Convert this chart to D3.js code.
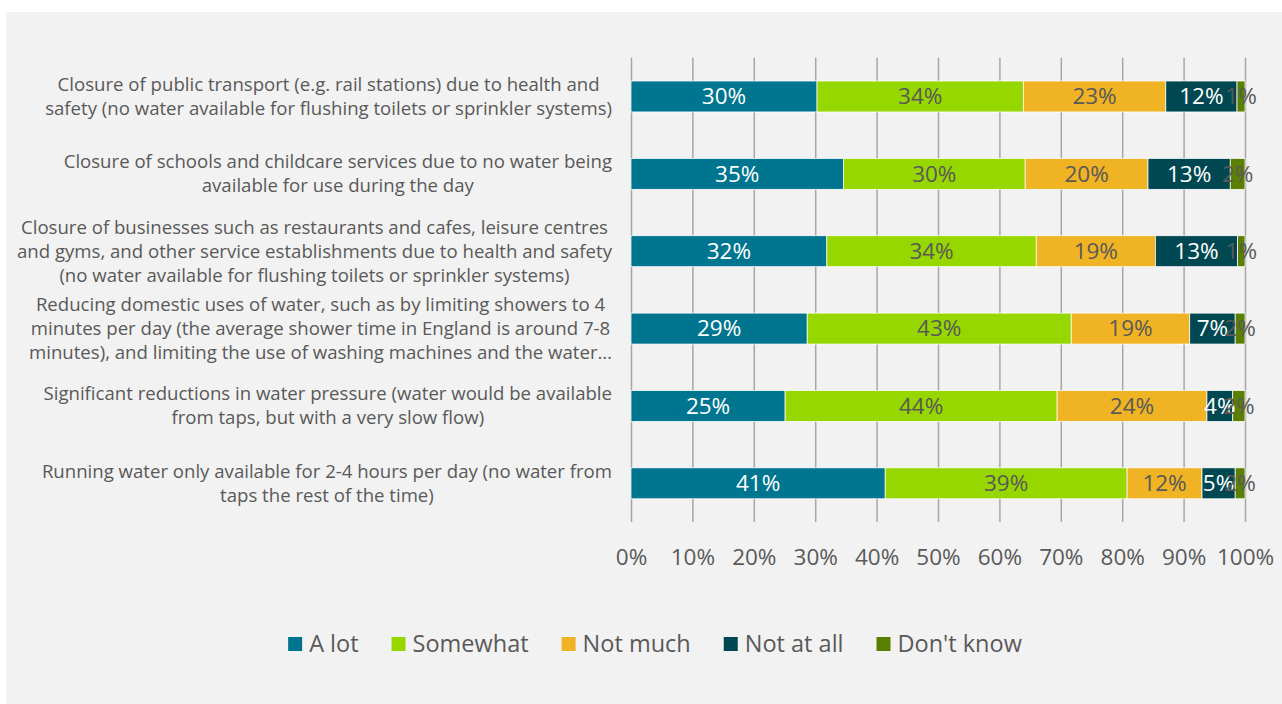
<!DOCTYPE html>
<html>
<head>
<meta charset="utf-8">
<script src="https://cdn.jsdelivr.net/npm/d3@7"></script>
<style>
  html, body { margin: 0; padding: 0; background: #ffffff; }
  svg { display: block; }
  text { font-family: "Open Sans", "Noto Sans", sans-serif; }
</style>
</head>
<body>
<svg id="chart" width="1282" height="704"></svg>
<script>
// Survey statements, each split over the lines it is printed on
const categories = [
  ["Closure of public transport (e.g. rail stations) due to health and",
   "safety (no water available for flushing toilets or sprinkler systems)"],
  ["Closure of schools and childcare services due to no water being",
   "available for use during the day"],
  ["Closure of businesses such as restaurants and cafes, leisure centres",
   "and gyms, and other service establishments due to health and safety",
   "(no water available for flushing toilets or sprinkler systems)"],
  ["Reducing domestic uses of water, such as by limiting showers to 4",
   "minutes per day (the average shower time in England is around 7-8",
   "minutes), and limiting the use of washing machines and the water\u2026"],
  ["Significant reductions in water pressure (water would be available",
   "from taps, but with a very slow flow)"],
  ["Running water only available for 2-4 hours per day (no water from",
   "taps the rest of the time)"]
];

const seriesNames = ["A lot", "Somewhat", "Not much", "Not at all", "Don't know"];

// Share of respondents (%) per statement, one array per answer
const aLot      = [30.3, 34.6, 31.9, 28.7, 25.1, 41.4];
const somewhat  = [33.6, 29.6, 34.1, 43.0, 44.3, 39.4];
const notMuch   = [23.2, 20.0, 19.4, 19.3, 24.4, 12.2];
const notAtAll  = [11.6, 13.4, 13.4,  7.4,  4.2,  5.4];
const dontKnow  = [ 1.3,  2.4,  1.2,  1.6,  2.0,  1.6];

const tickValues = [0, 0.1, 0.2, 0.3, 0.4, 0.5, 0.6, 0.7, 0.8, 0.9, 1.0];

const colors = ["#00758f", "#97d700", "#f0b323", "#004851", "#5b7f00"];
const labelColors = ["#ffffff", "#595959", "#595959", "#ffffff", "#595959"];

const svg = d3.select("#chart");

// Light grey panel behind the chart
svg.append("rect")
  .attr("x", 6).attr("y", 12)
  .attr("width", 1276).attr("height", 692)
  .attr("fill", "#f2f2f2");

const plot = { left: 631, right: 1245, top: 57.8, bottom: 522 };

const rows = categories.map((c, i) => ({
  idx: i,
  "A lot": aLot[i],
  "Somewhat": somewhat[i],
  "Not much": notMuch[i],
  "Not at all": notAtAll[i],
  "Don't know": dontKnow[i]
}));

const stack = d3.stack().keys(seriesNames).offset(d3.stackOffsetExpand);
const layers = stack(rows);

const x = d3.scaleLinear().domain([0, 1]).range([plot.left, plot.right]);
const y = d3.scaleBand()
  .domain(d3.range(categories.length))
  .range([plot.top, plot.bottom])
  .paddingInner(0.6)
  .paddingOuter(0.3);

// Vertical gridlines
const grid = d3.axisBottom(x)
  .tickValues(tickValues)
  .tickSize(-(plot.bottom - plot.top))
  .tickFormat("");
svg.append("g")
  .attr("transform", `translate(0,${plot.bottom})`)
  .call(grid)
  .call(g => g.select(".domain").remove())
  .call(g => g.selectAll("line").attr("stroke", "#a6a6a6").attr("stroke-width", 1.5));

// Axis tick labels
const axis = d3.axisBottom(x)
  .tickValues(tickValues)
  .tickSize(0)
  .tickPadding(0)
  .tickFormat(d3.format(".0%"));
svg.append("g")
  .attr("transform", `translate(0,${plot.bottom + 35})`)
  .call(axis)
  .call(g => g.select(".domain").remove())
  .call(g => g.selectAll("text")
    .attr("dy", "0.35em")
    .attr("fill", "#595959")
    .style("font-size", "22.5px")
    .style("font-family", "'Open Sans', sans-serif"));

// Stacked bar segments
const layerG = svg.append("g")
  .selectAll("g")
  .data(layers)
  .join("g")
  .attr("fill", (d, i) => colors[i]);

layerG.selectAll("rect")
  .data(d => d)
  .join("rect")
  .attr("x", d => x(d[0]))
  .attr("y", d => y(d.data.idx))
  .attr("width", d => x(d[1]) - x(d[0]))
  .attr("height", y.bandwidth())
  .attr("stroke", "#ffffff")
  .attr("stroke-width", 0.75);

// Value labels centred on each segment
layers.forEach((layer, li) => {
  svg.append("g")
    .selectAll("text")
    .data(layer)
    .join("text")
    .attr("x", d => (x(d[0]) + x(d[1])) / 2)
    .attr("y", d => y(d.data.idx) + y.bandwidth() / 2)
    .attr("dy", "0.35em")
    .attr("text-anchor", "middle")
    .attr("fill", labelColors[li])
    .style("font-size", "22.5px")
    .text(d => Math.round(d.data[layer.key]) + "%");
});

// Category labels: lines centred within a block whose right edge sits at x=612
const catFont = 18.6;
const lineH = 24;
const catG = svg.append("g");
categories.forEach((lines, i) => {
  const cy = y(i) + y.bandwidth() / 2;
  const t = catG.append("text")
    .attr("fill", "#595959")
    .style("font-size", catFont + "px")
    .attr("text-anchor", "middle");
  const spans = lines.map((ln, k) =>
    t.append("tspan")
      .attr("y", cy + (k - (lines.length - 1) / 2) * lineH)
      .attr("dy", "0.35em")
      .text(ln));
  const maxW = d3.max(spans, s => s.node().getComputedTextLength());
  const cx = 612 - maxW / 2;
  spans.forEach(s => s.attr("x", cx));
});

// Legend, centred under the plot
const legend = svg.append("g");
const items = seriesNames.map((name, i) => {
  const g = legend.append("g");
  g.append("rect")
    .attr("width", 14).attr("height", 14)
    .attr("y", -7)
    .attr("fill", colors[i]);
  const tx = g.append("text")
    .attr("x", 21)
    .attr("dy", "0.35em")
    .attr("fill", "#595959")
    .style("font-size", "23.5px")
    .text(name);
  return { g, w: 21 + tx.node().getComputedTextLength() };
});
const gap = 33;
const totalW = d3.sum(items, d => d.w) + gap * (items.length - 1);
let lx = 655 - totalW / 2;
items.forEach(it => {
  it.g.attr("transform", `translate(${lx},644)`);
  lx += it.w + gap;
});
</script>
</body>
</html>
